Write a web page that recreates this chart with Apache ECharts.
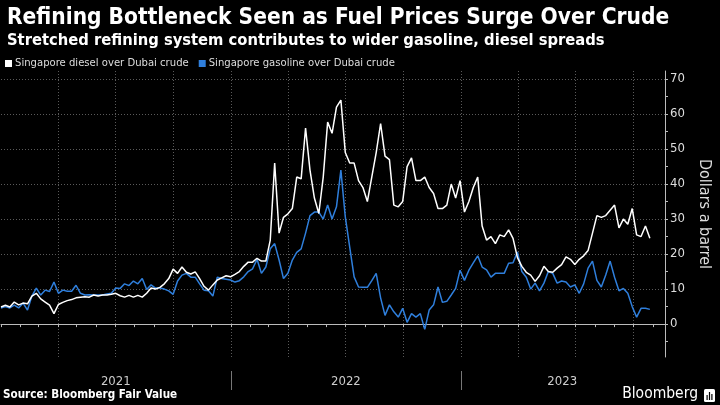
<!DOCTYPE html>
<html>
<head>
<meta charset="utf-8">
<script src="https://cdn.jsdelivr.net/npm/echarts@6/dist/echarts.min.js"></script>
<style>
html,body{margin:0;padding:0;background:#000;}
#chart{width:720px;height:405px;}
</style>
</head>
<body>
<div id="chart"></div>
<script>
// ---- Data (weekly samples) ----
var dates = [
'2021-01-01','2021-01-08','2021-01-15','2021-01-22','2021-01-29','2021-02-05','2021-02-12','2021-02-19','2021-02-26',
'2021-03-05','2021-03-12','2021-03-19','2021-03-26','2021-04-02','2021-04-09','2021-04-16','2021-04-23','2021-04-30',
'2021-05-07','2021-05-14','2021-05-21','2021-05-28','2021-06-04','2021-06-11','2021-06-18','2021-06-25',
'2021-07-02','2021-07-09','2021-07-16','2021-07-23','2021-07-30','2021-08-06','2021-08-13','2021-08-20','2021-08-27',
'2021-09-03','2021-09-10','2021-09-17','2021-09-24','2021-10-01','2021-10-08','2021-10-15','2021-10-22','2021-10-29',
'2021-11-05','2021-11-12','2021-11-19','2021-11-26','2021-12-03','2021-12-10','2021-12-17','2021-12-24','2021-12-31',
'2022-01-07','2022-01-14','2022-01-21','2022-01-28','2022-02-04','2022-02-11','2022-02-18','2022-02-25',
'2022-03-04','2022-03-11','2022-03-18','2022-03-25','2022-04-01','2022-04-08','2022-04-15','2022-04-22','2022-04-29',
'2022-05-06','2022-05-13','2022-05-20','2022-05-27','2022-06-03','2022-06-10','2022-06-17','2022-06-24',
'2022-07-01','2022-07-08','2022-07-15','2022-07-22','2022-07-29','2022-08-05','2022-08-12','2022-08-19','2022-08-26',
'2022-09-02','2022-09-09','2022-09-16','2022-09-23','2022-09-30','2022-10-07','2022-10-14','2022-10-21','2022-10-28',
'2022-11-04','2022-11-11','2022-11-18','2022-11-25','2022-12-02','2022-12-09','2022-12-16','2022-12-23','2022-12-30',
'2023-01-06','2023-01-13','2023-01-20','2023-01-27','2023-02-03','2023-02-10','2023-02-17','2023-02-24',
'2023-03-03','2023-03-10','2023-03-17','2023-03-24','2023-03-31','2023-04-07','2023-04-14','2023-04-21','2023-04-28',
'2023-05-05','2023-05-12','2023-05-19','2023-05-26','2023-06-02','2023-06-09','2023-06-16','2023-06-23','2023-06-30',
'2023-07-07','2023-07-14','2023-07-21','2023-07-28','2023-08-04','2023-08-11','2023-08-18','2023-08-25',
'2023-09-01','2023-09-08','2023-09-15','2023-09-22','2023-09-29','2023-10-06','2023-10-13','2023-10-20','2023-10-27'
];

var diesel = [
4.9,5.4,4.9,6.3,5.5,6.0,5.8,8.0,8.8,7.2,6.3,5.4,3.0,5.6,6.2,6.7,7.0,7.5,7.7,7.8,
7.7,8.3,8.0,8.3,8.3,8.5,8.8,8.1,7.7,8.2,7.7,8.2,7.7,8.8,10.3,10.0,10.5,11.5,13.0,15.7,
14.5,16.3,14.8,14.3,14.9,13.0,10.8,9.7,11.2,12.6,13.2,13.8,13.5,14.2,15.0,16.5,17.7,17.7,18.8,18.0,
18.0,24.0,46.0,26.0,30.5,31.5,33.0,42.0,41.5,56.0,44.0,36.0,31.6,42.0,57.7,54.5,62.0,64.0,49.0,46.0,
46.0,41.0,39.0,35.0,42.0,49.0,57.3,48.0,47.0,34.0,33.5,35.0,45.0,47.5,41.0,41.0,42.0,39.0,37.3,33.0,
33.0,34.0,40.0,36.0,41.0,32.0,35.0,39.0,42.0,28.0,24.0,25.0,23.0,25.5,25.0,26.9,24.5,19.0,16.5,14.8,
14.0,12.2,13.8,16.5,15.0,14.8,16.0,17.0,19.2,18.5,17.0,18.5,19.5,21.0,26.0,31.0,30.5,31.0,32.5,34.0,
27.5,30.0,28.5,33.0,25.5,25.0,28.0,24.5
];

var gasoline = [
4.6,5.0,4.6,5.4,4.6,6.0,4.0,8.0,10.3,8.3,9.7,9.3,12.0,8.8,9.7,9.4,9.4,11.1,8.8,8.3,
8.4,8.3,8.3,8.3,8.6,8.8,10.3,10.2,11.5,11.0,12.3,11.5,13.0,9.9,11.2,10.3,10.3,10.0,9.5,8.5,
12.3,14.0,14.5,13.4,13.4,11.5,9.7,9.5,8.0,13.4,13.0,12.8,12.6,12.0,12.4,13.5,15.0,15.8,18.5,14.5,
16.3,21.5,23.0,18.3,13.0,14.5,18.3,20.5,21.5,26.0,31.0,32.0,32.0,30.0,34.0,30.0,33.5,44.0,30.6,22.0,
13.5,10.6,10.5,10.5,12.4,14.5,7.5,2.5,5.5,3.5,2.0,4.5,0.5,3.0,2.0,3.0,-1.5,4.0,5.5,10.6,
6.2,6.5,8.3,10.2,15.4,12.5,15.4,17.5,19.5,16.3,15.5,13.4,14.5,14.5,14.5,17.4,17.5,20.6,15.0,13.4,
10.0,11.7,9.5,11.7,15.0,14.5,11.7,12.3,12.0,10.6,11.2,8.8,11.5,16.0,18.0,12.5,10.6,14.0,18.0,13.4,
9.5,10.2,8.8,5.0,2.0,4.5,4.5,4.2
];

var seriesNames = ['Singapore diesel over Dubai crude', 'Singapore gasoline over Dubai crude'];
var yearLabels = ['2021', '2022', '2023'];
var yLabelValues = [0, 10, 20, 30, 40, 50, 60, 70];
var yTickValues = [-5, 0, 5, 10, 15, 20, 25, 30, 35, 40, 45, 50, 55, 60, 65, 70];

// ---- Build chart ----
function t(s) { return Date.parse(s + 'T00:00:00Z'); }
function pairs(d, v) { return d.map(function (x, i) { return [t(x), v[i]]; }); }

var monthStarts = [];
for (var y = 2021; y <= 2023; y++) {
  for (var m = 1; m <= 12; m++) {
    if (y === 2023 && m > 11) break;
    monthStarts.push(y + '-' + (m < 10 ? '0' + m : m) + '-01');
  }
}
var quarterStarts = monthStarts.filter(function (s) {
  var mm = +s.slice(5, 7); return (mm - 1) % 3 === 0 && s !== '2021-01-01';
});

var FONT = "'DejaVu Sans Condensed', 'Liberation Sans Narrow', 'DejaVu Sans', sans-serif";
var BLUE = '#2f7fdc';
var xMin = t('2021-01-01'), xMax = t('2023-11-20');

var chart = echarts.init(document.getElementById('chart'), null, { renderer: 'canvas' });
chart.setOption({
  backgroundColor: '#000',
  animation: false,
  textStyle: { fontFamily: FONT },
  title: {
    text: 'Refining Bottleneck Seen as Fuel Prices Surge Over Crude',
    subtext: 'Stretched refining system contributes to wider gasoline, diesel spreads',
    left: 2, top: 2, itemGap: 3,
    textStyle: { color: '#fff', fontSize: 22.5, fontWeight: 'bold', fontFamily: FONT },
    subtextStyle: { color: '#fff', fontSize: 16.4, fontWeight: 'bold', fontFamily: FONT }
  },
  legend: {
    left: 0, top: 53, itemWidth: 7, itemHeight: 7, itemGap: 10, icon: 'rect',
    textStyle: { color: '#ddd', fontSize: 11.2, fontFamily: FONT, padding: [0, 0, 0, -2] },
    data: seriesNames
  },
  grid: { left: 1, right: 46, top: 71, bottom: 48, containLabel: false },
  xAxis: [
    { // main data axis with monthly ticks
      type: 'value', min: xMin, max: xMax, position: 'bottom',
      axisLine: { show: true, lineStyle: { color: '#bbb', width: 1 } },
      axisTick: { show: true, length: 3, lineStyle: { color: '#bbb' }, customValues: monthStarts.map(t) },
      axisLabel: { show: false },
      splitLine: { show: false }
    },
    { // quarterly dotted grid lines
      type: 'value', min: xMin, max: xMax, position: 'bottom',
      axisLine: { show: false },
      axisTick: { show: false, customValues: quarterStarts.map(t) },
      axisLabel: { show: false },
      splitLine: { show: true, lineStyle: { color: '#5a5a5a', type: [1, 2], width: 1 } }
    },
    { // year separators and labels
      type: 'value', min: xMin, max: xMax, position: 'bottom', offset: 14,
      axisLine: { show: false },
      axisTick: { show: true, length: 19, lineStyle: { color: '#777', width: 1 },
                  customValues: [t('2022-01-01'), t('2023-01-01')] },
      axisLabel: { show: true, color: '#ccc', fontSize: 13, margin: 4, fontFamily: FONT,
                   customValues: [t('2021-07-02'), t('2022-07-02'), t('2023-06-10')],
                   formatter: function (v) { return yearLabels[new Date(v).getUTCFullYear() - 2021]; } },
      splitLine: { show: false }
    }
  ],
  yAxis: [
    {
      type: 'value', position: 'right', min: -9.4, max: 72.3,
      name: 'Dollars a barrel', nameLocation: 'middle', nameGap: 31, nameRotate: -90,
      nameTextStyle: { color: '#ddd', fontSize: 16, fontFamily: FONT },
      axisLine: { show: true, lineStyle: { color: '#bbb', width: 1 } },
      axisTick: { show: true, length: 3, lineStyle: { color: '#bbb' }, customValues: yTickValues },
      axisLabel: { show: true, color: '#ddd', fontSize: 13, margin: 5, fontFamily: FONT, customValues: yLabelValues },
      splitLine: { show: false }
    },
    {
      type: 'value', position: 'right', min: -9.4, max: 72.3,
      axisLine: { show: false },
      axisTick: { show: false, customValues: yLabelValues },
      axisLabel: { show: false },
      splitLine: { show: true, lineStyle: { color: '#5a5a5a', type: [1, 2], width: 1 } }
    }
  ],
  series: [
    {
      name: seriesNames[1], type: 'line', xAxisIndex: 0, yAxisIndex: 0,
      data: pairs(dates, gasoline), showSymbol: false, symbol: 'none',
      lineStyle: { color: BLUE, width: 1.5 }, itemStyle: { color: BLUE }
    },
    {
      name: seriesNames[0], type: 'line', xAxisIndex: 0, yAxisIndex: 0,
      data: pairs(dates, diesel), showSymbol: false, symbol: 'none',
      lineStyle: { color: '#fff', width: 1.5 }, itemStyle: { color: '#fff' }
    }
  ],
  graphic: [
    { type: 'text', left: 3, top: 389,
      style: { text: 'Source: Bloomberg Fair Value', fill: '#fff', font: "bold 11.6px " + FONT } },
    { type: 'text', right: 22, top: 386,
      style: { text: 'Bloomberg', fill: '#fff', font: "15.5px " + FONT } },
    { type: 'group', right: 5, top: 389, children: [
      { type: 'rect', shape: { x: 0, y: 0, width: 11, height: 13, r: 1.5 }, style: { fill: '#fff' } },
      { type: 'rect', shape: { x: 2.5, y: 6, width: 1.2, height: 5 }, style: { fill: '#000' } },
      { type: 'rect', shape: { x: 4.9, y: 3, width: 1.2, height: 8 }, style: { fill: '#000' } },
      { type: 'rect', shape: { x: 7.3, y: 5, width: 1.2, height: 6 }, style: { fill: '#000' } }
    ] }
  ]
});
</script>
</body>
</html>
